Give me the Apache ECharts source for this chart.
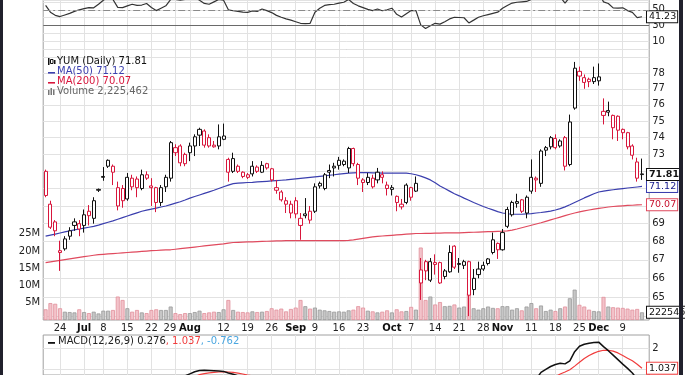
<!DOCTYPE html>
<html>
<head>
<meta charset="utf-8">
<script src="https://cdn.jsdelivr.net/npm/echarts@6/dist/echarts.min.js"></script>
<style>
  html, body { margin: 0; background: #fff; }
  #chart { width: 685px; height: 375px; }
</style>
</head>
<body>
<div id="chart"></div>
<script>
// YUM daily, 19 Jun - 13 Dec 2013 (prices in $, volume in millions)
const opens = [
  72.0, 70.1, 69.1, 67.5, 68.15, 68.3, 69.1, 69.0, 68.9, 69.7,
  69.3, 70.9, 71.65, 72.65, 72.3, 70.0, 71.0, 70.4, 71.6, 71.55,
  71.0, 71.8, 71.15, 71.05, 70.2, 71.1, 71.6, 73.4, 73.5, 73.0,
  73.1, 73.5, 74.15, 74.4, 74.0, 73.55, 73.5, 73.9, 71.95, 72.0,
  72.3, 71.95, 71.8, 71.85, 72.25, 71.95, 72.45, 72.15, 71.05, 70.8,
  70.3, 70.1, 70.3, 68.9, 69.45, 69.7, 69.7, 71.3, 71.0, 71.95,
  72.2, 72.65, 72.6, 72.2, 73.35, 72.4, 71.35, 71.35, 71.6, 71.5,
  71.8, 71.2, 70.95, 70.55, 70.1, 70.2, 70.5, 70.85, 65.75, 66.9,
  65.9, 66.85, 66.85, 66.1, 66.35, 67.75, 66.75, 66.7, 66.9, 65.4,
  66.2, 66.5, 66.8, 67.4, 67.9, 67.55, 68.85, 69.5, 70.15, 70.35,
  69.6, 70.85, 71.6, 71.3, 73.25, 73.45, 73.95, 73.5, 74.0, 72.4,
  75.8, 77.8, 77.4, 77.6, 77.45, 77.5, 75.35, 75.55, 75.35, 75.3,
  74.5, 74.3, 73.5, 72.55, 71.85
];
const closes = [
  70.6, 68.8, 68.6, 67.4, 67.6, 68.6, 68.9, 68.7, 69.5, 69.45,
  70.3, 70.95, 71.7, 72.3, 71.95, 71.05, 70.3, 71.65, 71.1, 71.05,
  71.8, 71.6, 71.05, 70.2, 71.05, 71.65, 73.7, 73.1, 72.5, 72.45,
  73.5, 74.05, 74.5, 73.55, 73.5, 73.45, 74.05, 74.1, 72.7, 72.75,
  72.0, 71.7, 71.65, 72.3, 72.0, 72.35, 72.2, 71.5, 70.9, 70.35,
  70.1, 69.6, 69.55, 69.3, 69.55, 69.2, 71.1, 71.15, 71.8, 72.05,
  72.3, 72.35, 72.4, 73.35, 72.45, 71.6, 71.5, 71.65, 71.1, 71.95,
  71.65, 71.0, 71.05, 70.2, 69.95, 71.2, 71.05, 71.3, 66.45, 66.4,
  66.9, 66.75, 65.75, 66.4, 67.4, 66.6, 66.8, 66.9, 65.1, 66.0,
  66.5, 66.7, 67.05, 68.1, 67.55, 68.5, 69.8, 70.2, 70.25, 69.7,
  70.5, 71.65, 71.5, 73.2, 73.4, 74.0, 73.4, 73.8, 72.3, 74.95,
  78.3, 78.1, 77.7, 77.45, 77.7, 77.75, 75.6, 75.65, 74.6, 74.45,
  74.3, 73.45, 72.95, 71.6, 71.81
];
const highs = [
  72.1, 70.3, 69.2, 68.05, 68.3, 68.8, 69.3, 69.2, 69.8, 70.05,
  70.5, 71.0, 72.25, 72.7, 72.4, 71.4, 71.2, 71.9, 71.8, 71.7,
  72.1, 72.0, 71.6, 71.1, 71.2, 71.8, 73.8, 73.6, 73.6, 73.1,
  73.7, 74.2, 74.6, 74.5, 74.2, 73.8, 74.8, 74.85, 72.8, 73.1,
  72.4, 72.0, 71.9, 72.6, 72.35, 72.6, 72.5, 72.2, 71.5, 70.9,
  70.5, 70.3, 70.5, 69.6, 70.45, 70.0, 71.3, 71.4, 71.9, 72.4,
  72.5, 72.85, 72.7, 73.45, 73.4, 72.5, 71.6, 71.9, 71.8, 72.2,
  72.0, 71.4, 71.2, 70.6, 70.4, 71.3, 71.1, 71.7, 67.1, 67.0,
  67.1, 67.3, 66.9, 66.5, 67.8, 67.8, 67.1, 67.0, 66.95, 66.5,
  66.9, 66.9, 67.1, 68.5, 67.95, 68.7, 69.95, 70.3, 70.7, 70.4,
  70.6, 72.7, 71.7, 73.3, 73.5, 74.1, 74.2, 73.9, 74.1, 75.4,
  78.7, 78.4, 77.9, 77.7, 78.4, 78.6, 76.4, 76.2, 75.4, 75.35,
  74.55, 74.35, 73.6, 72.8, 72.75
];
const lows = [
  70.5, 68.7, 68.3, 66.4, 67.5, 68.1, 68.6, 68.3, 68.5, 68.9,
  69.0, 70.8, 71.45, 72.2, 71.2, 69.75, 69.9, 70.3, 70.9, 70.5,
  70.9, 71.5, 70.0, 69.65, 70.0, 70.8, 71.4, 72.9, 72.3, 72.3,
  72.6, 72.9, 73.5, 73.4, 73.4, 73.4, 73.3, 73.85, 71.4, 71.9,
  71.9, 71.6, 71.55, 71.7, 71.9, 71.9, 72.1, 71.4, 70.7, 70.25,
  69.6, 69.3, 69.3, 68.1, 69.3, 69.0, 69.6, 71.0, 70.9, 71.6,
  71.7, 72.1, 72.3, 71.9, 72.3, 71.2, 70.8, 71.2, 71.0, 71.3,
  71.3, 70.6, 70.6, 69.7, 69.8, 70.1, 70.3, 70.8, 64.85, 65.9,
  65.8, 66.2, 65.7, 65.95, 66.3, 66.5, 66.3, 66.5, 64.0, 65.1,
  66.0, 66.4, 66.7, 67.3, 67.05, 67.5, 68.75, 69.4, 69.9, 69.6,
  69.3, 70.7, 70.8, 71.1, 72.9, 73.3, 73.3, 73.4, 72.05, 72.3,
  75.7, 77.5, 77.0, 77.1, 77.3, 77.2, 74.8, 75.3, 73.9, 73.8,
  73.9, 73.3, 72.7, 71.4, 71.5
];
const volumes = [
  3.1, 4.9, 4.7, 3.4, 2.4, 2.3, 2.2, 3.1, 2.3, 2.0,
  2.4, 1.9, 2.7, 2.7, 2.9, 6.8, 5.8, 3.4, 2.4, 2.9,
  2.2, 2.0, 2.9, 3.1, 2.9, 2.9, 3.9, 2.0, 1.7, 2.0,
  2.0, 2.3, 2.7, 2.0, 2.2, 2.4, 2.3, 3.1, 5.8, 2.9,
  2.4, 2.3, 2.2, 2.5, 2.3, 2.4, 2.6, 3.4, 3.0, 3.3,
  2.5, 3.2, 3.6, 5.8, 4.0, 3.3, 3.6, 3.0, 2.8, 2.6,
  2.4, 2.5, 2.4, 2.8, 3.0, 4.0, 3.6, 2.7, 2.5, 2.2,
  2.4, 2.8, 2.2, 3.1, 2.5, 2.6, 3.8, 3.0, 21.0, 5.8,
  6.8, 4.5, 5.2, 4.0, 4.1, 4.5, 3.6, 3.9, 7.8, 3.4,
  3.0, 3.4, 3.9, 3.5, 3.4, 4.0, 4.0, 3.0, 3.4, 2.8,
  3.9, 4.9, 3.4, 4.2, 2.6, 3.0, 2.6, 3.4, 3.9, 6.3,
  8.8, 4.4, 3.9, 3.0, 2.6, 2.5, 6.7, 3.9, 3.7, 3.6,
  3.5, 3.3, 3.0, 3.2, 2.225462
];
const ma50 = [
  68.30, 68.36, 68.42, 68.48, 68.54, 68.60, 68.65, 68.70, 68.75, 68.80,
  68.85, 68.92, 69.00, 69.08, 69.16, 69.25, 69.34, 69.43, 69.52, 69.61,
  69.70, 69.76, 69.82, 69.88, 69.94, 70.00, 70.08, 70.16, 70.24, 70.34,
  70.45, 70.54, 70.63, 70.72, 70.81, 70.90, 71.00, 71.10, 71.20, 71.28,
  71.31, 71.33, 71.35, 71.36, 71.38, 71.40, 71.42, 71.44, 71.46, 71.48,
  71.50, 71.53, 71.56, 71.59, 71.62, 71.65, 71.68, 71.71, 71.74, 71.77,
  71.80, 71.84, 71.87, 71.90, 71.91, 71.92, 71.92, 71.92, 71.91, 71.91,
  71.90, 71.90, 71.90, 71.90, 71.90, 71.90, 71.86, 71.80, 71.72, 71.62,
  71.50, 71.34, 71.15, 71.00, 70.85, 70.70, 70.58, 70.45, 70.33, 70.20,
  70.08, 69.97, 69.87, 69.78, 69.68, 69.60, 69.56, 69.54, 69.53, 69.53,
  69.55, 69.57, 69.60, 69.63, 69.67, 69.71, 69.77, 69.85, 69.95, 70.07,
  70.20, 70.33, 70.46, 70.58, 70.70, 70.80, 70.85, 70.89, 70.93, 70.97,
  71.00, 71.03, 71.06, 71.09, 71.12
];
const ma200 = [
  66.85, 66.89, 66.93, 66.97, 67.01, 67.05, 67.09, 67.13, 67.17, 67.21,
  67.25, 67.28, 67.30, 67.32, 67.34, 67.36, 67.38, 67.40, 67.42, 67.44,
  67.46, 67.48, 67.50, 67.51, 67.53, 67.54, 67.55, 67.58, 67.61, 67.64,
  67.67, 67.70, 67.73, 67.76, 67.79, 67.82, 67.85, 67.88, 67.92, 67.95,
  67.96, 67.97, 67.98, 67.99, 68.00, 68.01, 68.02, 68.03, 68.04, 68.04,
  68.05, 68.05, 68.05, 68.05, 68.05, 68.05, 68.05, 68.05, 68.05, 68.05,
  68.05, 68.06, 68.06, 68.07, 68.10, 68.14, 68.18, 68.22, 68.26, 68.29,
  68.31, 68.33, 68.35, 68.37, 68.39, 68.41, 68.43, 68.45, 68.45, 68.46,
  68.46, 68.47, 68.47, 68.48, 68.48, 68.49, 68.49, 68.50, 68.51, 68.52,
  68.53, 68.54, 68.55, 68.56, 68.57, 68.58, 68.60, 68.64, 68.70, 68.77,
  68.84, 68.91, 68.98, 69.05, 69.13, 69.21, 69.29, 69.37, 69.45, 69.53,
  69.60, 69.66, 69.72, 69.77, 69.82, 69.86, 69.90, 69.94, 69.97, 69.99,
  70.01, 70.03, 70.04, 70.06, 70.07
];
const rsi = [
  55.5, 47, 43, 41.5, 43.5, 45.5, 48, 50, 51.5, 52.8,
  52.5, 57, 62, 66, 63, 53, 52.8, 55, 57, 55.5,
  56, 58, 53, 49, 52, 55, 63, 63, 62, 63,
  64, 66, 62, 58, 57, 60, 63, 62, 50, 48.8,
  48, 47, 46.7, 48.5, 48, 51, 49, 46.5, 43, 40.6,
  38.5, 37, 35, 33, 32.5, 33, 47, 52, 55.5, 56.5,
  57, 58.5, 59.5, 63, 58, 55, 52.8, 50.5, 49, 51,
  48.8, 50, 52, 44.3, 41, 45, 49, 49, 31, 26.5,
  30, 33, 32, 35, 38.5, 40.6, 40.3, 40, 33.5, 37,
  40.6, 42.5, 44, 45.5, 47, 52, 55.5, 58.5, 59.5, 60,
  60.5, 63, 63, 67, 68, 69, 66, 66, 58.5, 66,
  76, 75, 73, 72, 72, 72, 60, 58, 52.5, 52,
  52.5, 49, 46.7, 40.2, 41.23
];
const macd = [
  -0.10, -0.18, -0.26, -0.36, -0.40, -0.40, -0.36, -0.33, -0.28, -0.24,
  -0.16, -0.06, 0.05, 0.16, 0.22, 0.18, 0.13, 0.16, 0.17, 0.18,
  0.22, 0.24, 0.22, 0.16, 0.18, 0.23, 0.38, 0.48, 0.52, 0.66,
  0.76, 0.86, 0.92, 0.93, 0.92, 0.91, 0.90, 0.88, 0.80, 0.74,
  0.66, 0.58, 0.52, 0.50, 0.46, 0.44, 0.42, 0.36, 0.26, 0.16,
  0.06, -0.04, -0.12, -0.22, -0.28, -0.34, -0.28, -0.20, -0.12, -0.04,
  0.04, 0.10, 0.14, 0.22, 0.24, 0.20, 0.14, 0.10, 0.05, 0.04,
  0.02, -0.02, -0.04, -0.10, -0.16, -0.12, -0.10, -0.06, -0.46, -0.76,
  -0.90, -1.00, -1.12, -1.18, -1.14, -1.16, -1.14, -1.10, -1.20, -1.18,
  -1.12, -1.04, -0.94, -0.80, -0.70, -0.54, -0.34, -0.14, 0.02, 0.10,
  0.24, 0.40, 0.50, 0.83, 0.98, 1.12, 1.22, 1.28, 1.25, 1.40,
  1.85, 2.12, 2.22, 2.27, 2.30, 2.32, 2.10, 1.90, 1.68, 1.46,
  1.24, 1.03, 0.80, 0.50, 0.276
];
const signal = [
  0.05, 0.00, -0.05, -0.11, -0.17, -0.21, -0.24, -0.26, -0.26, -0.26,
  -0.24, -0.20, -0.15, -0.09, -0.02, 0.02, 0.04, 0.06, 0.08, 0.10,
  0.12, 0.15, 0.16, 0.16, 0.17, 0.18, 0.22, 0.27, 0.32, 0.39,
  0.46, 0.62, 0.72, 0.77, 0.81, 0.83, 0.85, 0.86, 0.85, 0.83,
  0.79, 0.75, 0.70, 0.66, 0.62, 0.58, 0.55, 0.51, 0.46, 0.40,
  0.34, 0.26, 0.18, 0.10, 0.02, -0.06, -0.10, -0.12, -0.12, -0.10,
  -0.07, -0.04, -0.01, 0.03, 0.07, 0.10, 0.11, 0.11, 0.10, 0.09,
  0.08, 0.06, 0.04, 0.01, -0.02, -0.04, -0.05, -0.06, -0.14, -0.26,
  -0.39, -0.51, -0.63, -0.74, -0.82, -0.89, -0.94, -0.97, -1.02, -1.05,
  -1.06, -1.06, -1.04, -0.99, -0.93, -0.85, -0.75, -0.63, -0.50, -0.38,
  -0.26, -0.13, -0.02, 0.15, 0.31, 0.47, 0.62, 0.75, 0.85, 0.96,
  1.14, 1.33, 1.51, 1.66, 1.78, 1.87, 1.92, 1.92, 1.88, 1.79,
  1.66, 1.53, 1.40, 1.23, 1.037
];
const prevClose = 72.3;          // close before the first bar (first bar is a down day)
const lastVolume = 2225462;
const macdHist = -0.762;

const tickDates = ['2013-06-24', '2013-07-01', '2013-07-08', '2013-07-15', '2013-07-22', '2013-07-29',
  '2013-08-01', '2013-08-12', '2013-08-19', '2013-08-26', '2013-09-03', '2013-09-09', '2013-09-16',
  '2013-09-23', '2013-10-01', '2013-10-07', '2013-10-14', '2013-10-21', '2013-10-28', '2013-11-01',
  '2013-11-11', '2013-11-18', '2013-11-25', '2013-12-02', '2013-12-09'];
const tickTexts = ['24', 'Jul', '8', '15', '22', '29', 'Aug', '12', '19', '26', 'Sep', '9', '16',
  '23', 'Oct', '7', '14', '21', '28', 'Nov', '11', '18', '25', 'Dec', '9'];
const months = ['Jul', 'Aug', 'Sep', 'Oct', 'Nov', 'Dec'];
const priceTicks = [64, 65, 66, 67, 68, 69, 70, 71, 72, 73, 74, 75, 76, 77, 78, 79];
const priceLabels = [65, 66, 67, 68, 69, 73, 74, 75, 76, 77, 78];
const macdTicks = [1, 2];
const macdLabels = [2];

// trading days
const holidays = ['2013-07-04', '2013-09-02', '2013-11-28'];
const dates = [];
for (let d = new Date(Date.UTC(2013, 5, 19)); dates.length < closes.length; d.setUTCDate(d.getUTCDate() + 1)) {
  const s = d.toISOString().slice(0, 10);
  const wd = d.getUTCDay();
  if (wd === 0 || wd === 6 || holidays.includes(s)) continue;
  dates.push(s);
}
const cats = dates.concat(['']);   // one empty slot on the right
const last = dates.length - 1;

const RED = '#d8163c';
const BLUE = '#3b3fae';
const GRID = '#e2e2e2';
const FONT = 'DejaVu Sans';

const isTick = (idx, val) => tickDates.includes(val);
const ln = Math.log;

const candleData = opens.map((o, i) => {
  const c = closes[i];
  const down = c < (i ? closes[i - 1] : prevClose);
  const col = down ? RED : '#111';
  return {
    value: [ln(o), ln(c), ln(lows[i]), ln(highs[i])],
    itemStyle: { color: '#fff', color0: col, borderColor: col, borderColor0: col }
  };
});
const volumeData = volumes.map((v, i) => {
  const down = closes[i] < (i ? closes[i - 1] : prevClose);
  return {
    value: v,
    itemStyle: down
      ? { color: '#f3c3ca', borderColor: '#e1909c' }
      : { color: '#c6c6c6', borderColor: '#999' }
  };
});

const tag = (color, textColor) => ({
  show: true,
  backgroundColor: '#fff',
  borderColor: color,
  borderWidth: 1,
  padding: [1, 1, 0, 2],
  fontSize: 9.5,
  fontFamily: FONT,
  color: textColor || '#111'
});

const chart = echarts.init(document.getElementById('chart'));

const xBase = (gi, extra) => Object.assign({
  type: 'category',
  gridIndex: gi,
  data: cats,
  boundaryGap: true,
  axisLine: { show: false },
  axisTick: { show: false },
  axisLabel: { show: false },
  splitLine: { show: true, interval: isTick, alignWithLabel: true, lineStyle: { color: GRID, width: 1 } }
}, extra || {});

chart.setOption({
  animation: false,
  textStyle: { fontFamily: FONT },
  grid: [
    { left: 43.2, right: 35.8, top: -1, height: 50.5, show: true, borderColor: '#a0a0a0', backgroundColor: 'transparent' },
    { left: 43.2, right: 35.8, top: 49.5, height: 270.5, show: true, borderColor: '#a0a0a0', backgroundColor: 'transparent' },
    { left: 43.2, right: 35.8, top: 216.5, height: 103.5 },
    { left: 43.2, right: 35.8, top: 335, height: 41, show: true, borderColor: '#a0a0a0', backgroundColor: 'transparent' }
  ],
  xAxis: [
    xBase(0),
    xBase(1, {
      axisLabel: {
        show: true,
        interval: isTick,
        margin: 3,
        fontSize: 10,
        color: '#222',
        formatter: (val) => {
          const t = tickTexts[tickDates.indexOf(val)];
          if (!t) return '';
          if (months.includes(t)) return '{m|' + t + '}';
          if (val === '2013-07-29') return '{s|' + t + '}';
          return t;
        },
        rich: {
          m: { fontWeight: 'bold', fontSize: 10, fontFamily: FONT, color: '#111' },
          s: { fontSize: 10, fontFamily: FONT, color: '#222', padding: [0, 11, 0, 0] }
        }
      }
    }),
    xBase(2, { splitLine: { show: false } }),
    xBase(3)
  ],
  yAxis: [
    {
      type: 'value', gridIndex: 0, position: 'right', min: 0, max: 62.35, interval: 10,
      axisLine: { show: false }, axisTick: { show: false },
      axisLabel: { margin: 3, fontSize: 10, color: '#222', formatter: v => [10, 30, 50].includes(v) ? String(v) : '' },
      splitLine: { lineStyle: { color: GRID } }
    },
    {
      type: 'value', gridIndex: 1, position: 'right', min: ln(63.8), max: ln(79.5),
      axisLine: { show: false },
      axisTick: { show: false, customValues: priceTicks.map(ln) },
      axisLabel: { margin: 3, fontSize: 10, color: '#222', customValues: priceLabels.map(ln),
        formatter: v => String(Math.round(Math.exp(v))) },
      splitLine: { lineStyle: { color: GRID } }
    },
    {
      type: 'value', gridIndex: 2, position: 'left', min: 0, max: 30, interval: 5,
      axisLine: { show: false }, axisTick: { show: false },
      axisLabel: { margin: 3, fontSize: 10, color: '#222', formatter: v => (v > 0 && v < 30) ? v + 'M' : '' },
      splitLine: { show: false }
    },
    {
      type: 'value', gridIndex: 3, position: 'right', min: 0.702, max: 2.673,
      axisLine: { show: false },
      axisTick: { show: false, customValues: macdTicks },
      axisLabel: { margin: 3, fontSize: 10, color: '#222', customValues: macdLabels },
      splitLine: { lineStyle: { color: GRID } }
    }
  ],
  series: [
    {
      type: 'line', name: 'RSI', xAxisIndex: 0, yAxisIndex: 0, data: rsi,
      symbol: 'none', lineStyle: { color: '#333', width: 1.2 }, z: 3,
      endLabel: Object.assign(tag('#111'), { distance: 5, formatter: () => rsi[last].toFixed(2) }),
      markLine: {
        silent: true, symbol: 'none', label: { show: false },
        data: [
          { yAxis: 50, lineStyle: { color: '#8a8a8a', width: 1, type: [7, 3, 2, 3] } },
          { yAxis: 30, lineStyle: { color: '#6a6a6a', width: 1, type: 'solid' } }
        ]
      }
    },
    {
      type: 'bar', name: 'Volume', xAxisIndex: 2, yAxisIndex: 2, data: volumeData,
      barWidth: 4, itemStyle: { borderWidth: 0.8 }, z: 1,
      markPoint: {
        symbol: 'rect', symbolSize: 0,
        label: Object.assign(tag('#111'), { position: 'right', distance: 5, formatter: String(lastVolume) }),
        data: [{ coord: [dates[last], volumes[last]] }]
      }
    },
    {
      type: 'line', name: 'MA(200)', xAxisIndex: 1, yAxisIndex: 1, data: ma200.map(ln),
      symbol: 'none', lineStyle: { color: '#e04a5e', width: 1.2 }, z: 2,
      endLabel: Object.assign(tag('#e04a5e', '#c8102e'), { distance: 5, formatter: () => ma200[last].toFixed(2) })
    },
    {
      type: 'line', name: 'MA(50)', xAxisIndex: 1, yAxisIndex: 1, data: ma50.map(ln),
      symbol: 'none', lineStyle: { color: BLUE, width: 1.2 }, z: 2,
      endLabel: Object.assign(tag(BLUE, '#1c2090'), { distance: 5, formatter: () => ma50[last].toFixed(2) })
    },
    {
      type: 'candlestick', name: 'YUM', xAxisIndex: 1, yAxisIndex: 1, data: candleData,
      barWidth: 3.6, itemStyle: { borderWidth: 1 }, z: 3,
      markPoint: {
        symbol: 'rect', symbolSize: 0,
        label: Object.assign(tag('#111'), { position: 'right', distance: 5, fontWeight: 'bold', formatter: closes[last].toFixed(2) }),
        data: [{ coord: [dates[last], ln(closes[last])] }]
      }
    },
    {
      type: 'line', name: 'Signal', xAxisIndex: 3, yAxisIndex: 3, data: signal,
      symbol: 'none', lineStyle: { color: '#f03c3c', width: 1.2 }, z: 2,
      endLabel: Object.assign(tag('#f03c3c', '#111'), { distance: 5, formatter: () => signal[last].toFixed(3) })
    },
    {
      type: 'line', name: 'MACD', xAxisIndex: 3, yAxisIndex: 3, data: macd,
      symbol: 'none', lineStyle: { color: '#111', width: 1.5 }, z: 3
    }
  ],
  graphic: [
    { type: 'rect', shape: { x: 0, y: 0, width: 3, height: 375 }, style: { fill: '#20202c' }, z: 100 },
    { type: 'rect', shape: { x: 679, y: 0, width: 4, height: 375 }, style: { fill: '#20202c' }, z: 100 },
    // price legend
    { type: 'rect', shape: { x: 48, y: 58, width: 1.5, height: 7 }, style: { fill: '#111' }, z: 50 },
    { type: 'rect', shape: { x: 50.5, y: 59.5, width: 2.5, height: 4 }, style: { fill: '#fff', stroke: '#111', lineWidth: 1 }, z: 50 },
    { type: 'rect', shape: { x: 54, y: 60, width: 1.5, height: 4 }, style: { fill: '#111' }, z: 50 },
    { type: 'text', x: 57, y: 56.5, z: 50, style: { text: 'YUM (Daily) ' + closes[last].toFixed(2), font: '10px "DejaVu Sans"', fill: '#111' } },
    { type: 'rect', shape: { x: 48, y: 72, width: 7, height: 1.6 }, style: { fill: BLUE }, z: 50 },
    { type: 'text', x: 57, y: 66.5, z: 50, style: { text: 'MA(50) ' + ma50[last].toFixed(2), font: '10px "DejaVu Sans"', fill: BLUE } },
    { type: 'rect', shape: { x: 48, y: 82, width: 7, height: 1.6 }, style: { fill: RED }, z: 50 },
    { type: 'text', x: 57, y: 76.5, z: 50, style: { text: 'MA(200) ' + ma200[last].toFixed(2), font: '10px "DejaVu Sans"', fill: RED } },
    { type: 'rect', shape: { x: 48, y: 90, width: 1.5, height: 5 }, style: { fill: '#777' }, z: 50 },
    { type: 'rect', shape: { x: 50.5, y: 88, width: 1.5, height: 7 }, style: { fill: '#777' }, z: 50 },
    { type: 'rect', shape: { x: 53, y: 89.5, width: 1.5, height: 5.5 }, style: { fill: '#777' }, z: 50 },
    { type: 'text', x: 57, y: 86.5, z: 50, style: { text: 'Volume ' + lastVolume.toLocaleString('en-US'), font: '10px "DejaVu Sans"', fill: '#666' } },
    // MACD legend
    { type: 'rect', shape: { x: 48, y: 342, width: 7, height: 1.8 }, style: { fill: '#111' }, z: 50 },
    {
      type: 'text', x: 58, y: 336.5, z: 50,
      style: {
        text: '{a|MACD(12,26,9) ' + macd[last].toFixed(3) + '}{b|, ' + signal[last].toFixed(3) + '}{c|, ' + macdHist.toFixed(3) + '}',
        font: '10px "DejaVu Sans"',
        rich: {
          a: { fill: '#222', font: '10px "DejaVu Sans"' },
          b: { fill: '#f03c3c', font: '10px "DejaVu Sans"' },
          c: { fill: '#4aa6e0', font: '10px "DejaVu Sans"' }
        }
      }
    }
  ]
});
</script>
</body>
</html>
